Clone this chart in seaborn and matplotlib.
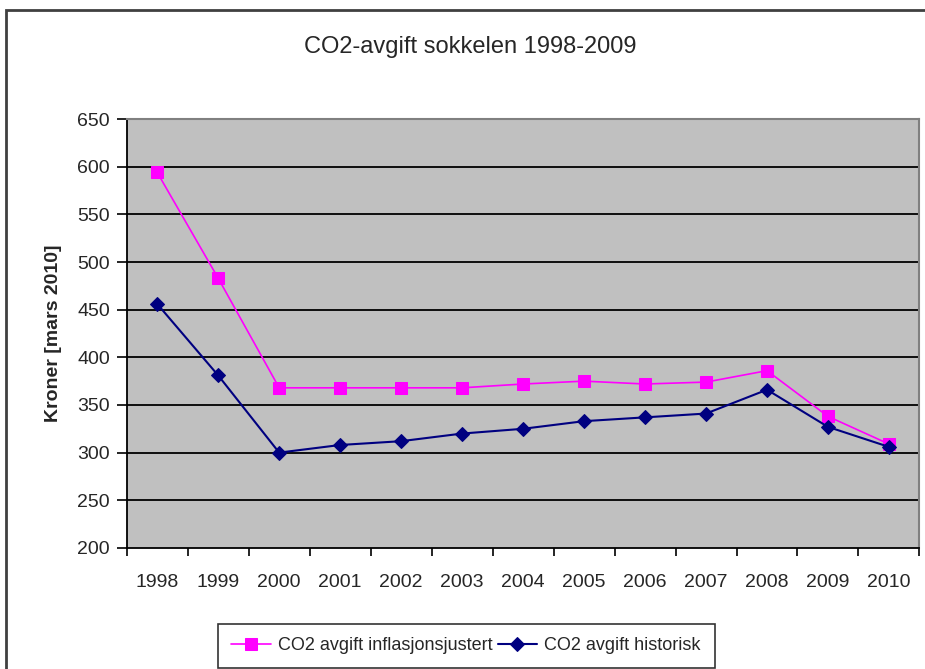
import numpy as np
import pandas as pd
import matplotlib
matplotlib.use("Agg")
import matplotlib.pyplot as plt
import seaborn as sns
from matplotlib.patches import Rectangle
from matplotlib.ticker import FixedLocator

# Data
years = ["1998", "1999", "2000", "2001", "2002", "2003", "2004",
         "2005", "2006", "2007", "2008", "2009", "2010"]
inflasjonsjustert = [594, 483, 368, 368, 368, 368, 372, 375, 372, 374, 386, 338, 309]
historisk = [456, 381, 300, 308, 312, 320, 325, 333, 337, 341, 366, 327, 306]

label_infl = "CO2 avgift inflasjonsjustert"
label_hist = "CO2 avgift historisk"

sns.set_style("white")
plt.rcParams["font.family"] = ["Liberation Sans", "DejaVu Sans"]

df = pd.DataFrame({"pos": np.arange(len(years)),
                   "infl": inflasjonsjustert,
                   "hist": historisk})

fig = plt.figure(figsize=(9.25, 6.69), dpi=100)
ax = fig.add_axes([0.137, 0.181, 0.857, 0.641])
ax.set_facecolor("#c0c0c0")

# horizontal gridlines
for v in range(250, 601, 50):
    ax.axhline(v, color="black", lw=1.3, zorder=1)

sns.lineplot(data=df, x="pos", y="infl", ax=ax, color="#ff00ff", lw=1.2,
             marker="s", markersize=8, markeredgecolor="#ff00ff",
             label=label_infl, zorder=3)
sns.lineplot(data=df, x="pos", y="hist", ax=ax, color="#000080", lw=1.5,
             marker="D", markersize=7, markeredgecolor="#000080",
             label=label_hist, zorder=4)

ax.set_xlim(-0.5, len(years) - 0.5)
ax.set_ylim(200, 650)
ax.set_yticks(range(200, 651, 50))
ax.set_xticks(df["pos"])
ax.set_xticklabels(years)
ax.xaxis.set_minor_locator(FixedLocator(np.arange(-0.5, len(years), 1.0)))
ax.tick_params(axis="x", which="major", length=0, labelsize=14, pad=19)
ax.tick_params(axis="x", which="minor", length=6, width=1.2, direction="out",
               color="black", bottom=True)
ax.tick_params(axis="y", length=7, width=1.2, direction="out", color="black",
               labelsize=14, left=True, pad=5)

for s in ["top", "right"]:
    ax.spines[s].set_color("#808080")
    ax.spines[s].set_linewidth(1.5)
for s in ["left", "bottom"]:
    ax.spines[s].set_color("black")
    ax.spines[s].set_linewidth(1.3)

ax.set_xlabel("")
ax.set_ylabel("Kroner [mars 2010]", fontsize=14, fontweight="bold", labelpad=11)

fig.text(0.508, 0.929, "CO2-avgift sokkelen 1998-2009", ha="center",
         va="center", fontsize=17)

handles, labels = ax.get_legend_handles_labels()
ax.get_legend().remove()
leg = fig.legend(handles, labels, loc="center", bbox_to_anchor=(0.504, 0.035),
                 ncol=2, frameon=True, fancybox=False, fontsize=13,
                 handlelength=2.2, columnspacing=0.25, handletextpad=0.4,
                 borderpad=0.75, borderaxespad=0)
leg.get_frame().set_edgecolor("black")
leg.get_frame().set_linewidth(1.2)

# outer chart border
fig.patches.append(Rectangle((0.0065, -0.1), 1.2, 1.085, transform=fig.transFigure,
                             fill=False, edgecolor="#404040", lw=2,
                             clip_on=False))

fig.savefig("out.png", dpi=100)
